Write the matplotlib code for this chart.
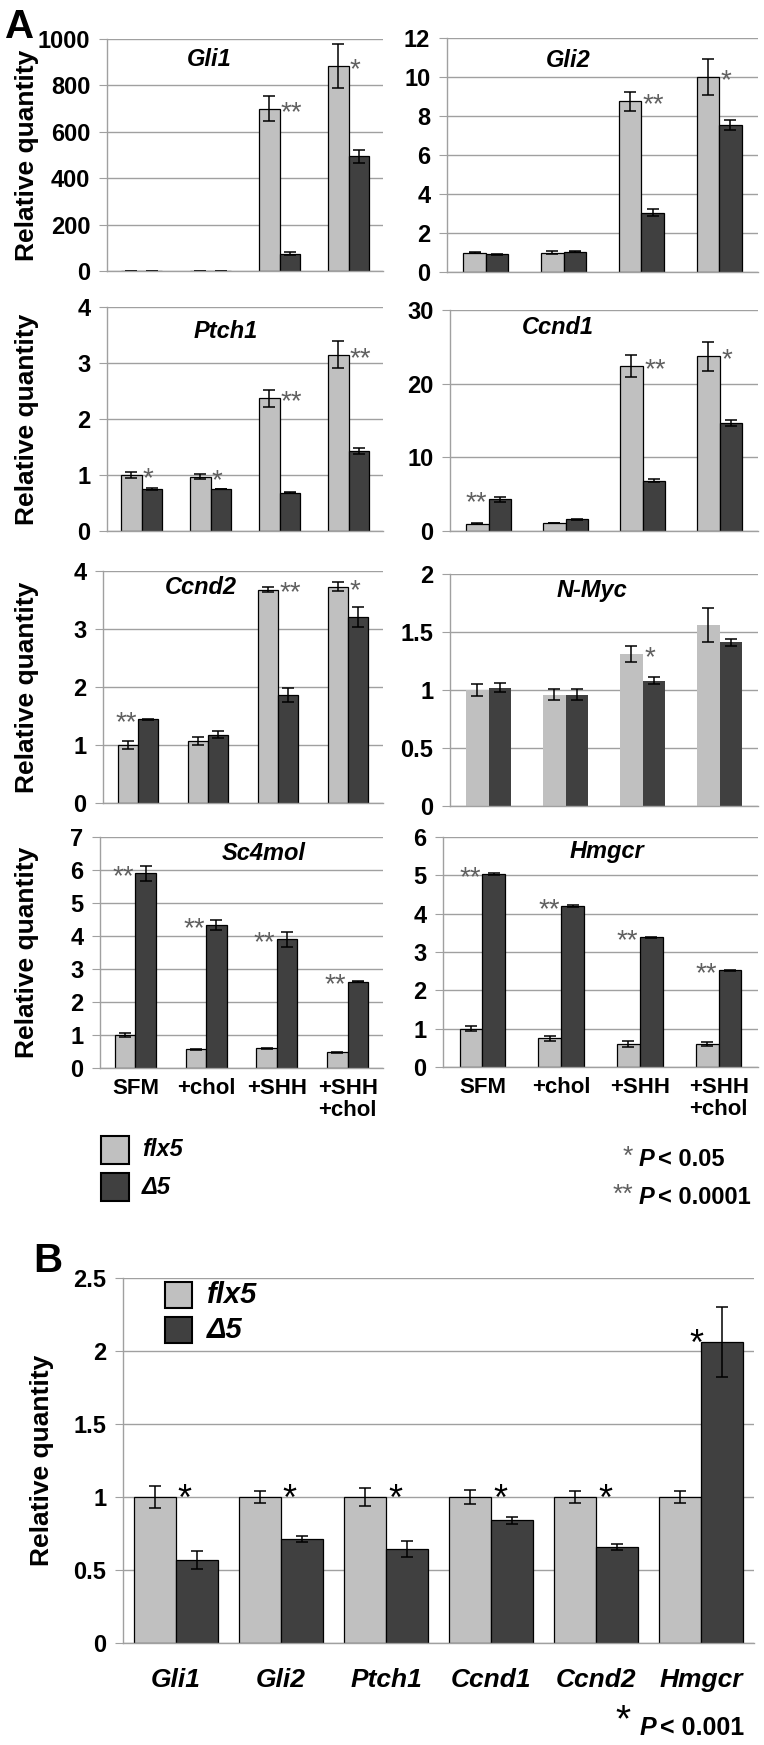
import matplotlib
matplotlib.use("Agg")
import matplotlib.pyplot as plt
import numpy as np
from matplotlib import font_manager
from matplotlib.patches import Rectangle
from matplotlib.ticker import FuncFormatter, MultipleLocator

W, H = 764, 1745
LIGHT = "#c0c0c0"
DARK = "#404040"
GRID = "#a0a0a0"
STAR_GRAY = "#606060"

installed = {f.name for f in font_manager.fontManager.ttflist}
SANS = ["Liberation Sans", "DejaVu Sans"]
NARROW = (["Liberation Sans Narrow"] if "Liberation Sans Narrow" in installed else []) + SANS
plt.rcParams["font.family"] = NARROW
plt.rcParams["font.weight"] = "bold"

# ---- data (panel A) ----
conditions = ["SFM", "+chol", "+SHH", "+SHH\n+chol"]

gli1_flx = [1, 1, 700, 885]
gli1_flx_err = [0.5, 0.5, 55, 95]
gli1_d5 = [1, 1.5, 75, 495]
gli1_d5_err = [0.3, 0.3, 5, 28]

gli2_flx = [1.0, 1.0, 8.75, 10.0]
gli2_flx_err = [0.03, 0.06, 0.5, 0.9]
gli2_d5 = [0.9, 1.05, 3.05, 7.55]
gli2_d5_err = [0.03, 0.03, 0.2, 0.25]

ptch1_flx = [1.0, 0.97, 2.37, 3.15]
ptch1_flx_err = [0.05, 0.05, 0.15, 0.24]
ptch1_d5 = [0.75, 0.75, 0.68, 1.43]
ptch1_d5_err = [0.02, 0.0, 0.01, 0.05]

ccnd1_flx = [1.0, 1.1, 22.4, 23.7]
ccnd1_flx_err = [0.05, 0.05, 1.5, 2.0]
ccnd1_d5 = [4.3, 1.6, 6.8, 14.6]
ccnd1_d5_err = [0.3, 0.05, 0.2, 0.4]

ccnd2_flx = [1.0, 1.07, 3.68, 3.73]
ccnd2_flx_err = [0.07, 0.07, 0.04, 0.08]
ccnd2_d5 = [1.44, 1.18, 1.86, 3.21]
ccnd2_d5_err = [0.01, 0.06, 0.12, 0.17]

nmyc_flx = [1.0, 0.96, 1.31, 1.56]
nmyc_flx_err = [0.05, 0.05, 0.07, 0.15]
nmyc_d5 = [1.02, 0.96, 1.08, 1.41]
nmyc_d5_err = [0.04, 0.05, 0.03, 0.03]

sc4mol_flx = [1.0, 0.57, 0.6, 0.47]
sc4mol_flx_err = [0.05, 0.01, 0.01, 0.01]
sc4mol_d5 = [5.9, 4.33, 3.9, 2.62]
sc4mol_d5_err = [0.22, 0.15, 0.23, 0.02]

hmgcr_flx = [1.0, 0.75, 0.6, 0.6]
hmgcr_flx_err = [0.06, 0.07, 0.08, 0.05]
hmgcr_d5 = [5.03, 4.2, 3.38, 2.52]
hmgcr_d5_err = [0.02, 0.02, 0.02, 0.02]

# ---- data (panel B) ----
genes_b = ["Gli1", "Gli2", "Ptch1", "Ccnd1", "Ccnd2", "Hmgcr"]
b_flx = [1.0, 1.0, 1.0, 1.0, 1.0, 1.0]
b_flx_err = [0.075, 0.04, 0.065, 0.05, 0.04, 0.04]
b_d5 = [0.57, 0.71, 0.645, 0.84, 0.66, 2.06]
b_d5_err = [0.06, 0.02, 0.055, 0.025, 0.02, 0.24]


def px_axes(fig, left, top, right, bottom):
    return fig.add_axes([left / W, 1 - bottom / H, (right - left) / W, (bottom - top) / H])


def style_axes(ax, ymax, step):
    ax.set_ylim(0, ymax)
    ax.yaxis.set_major_locator(MultipleLocator(step))
    ax.yaxis.set_major_formatter(FuncFormatter(lambda v, p: f"{v:g}"))
    ax.grid(axis="y", color=GRID, lw=1)
    ax.set_axisbelow(True)
    for s in ["top", "right"]:
        ax.spines[s].set_visible(False)
    for s in ["left", "bottom"]:
        ax.spines[s].set_color(GRID)
        ax.spines[s].set_linewidth(1)
    ax.tick_params(axis="y", direction="out", length=6, color=GRID, pad=6, labelsize=17)
    ax.tick_params(axis="x", length=0, pad=7)


def draw_pair(ax, x, w, flx, flx_err, d5, d5_err, edges=True):
    ek = dict(ecolor="black", elinewidth=1.1, capsize=4, capthick=1.1)
    ec = "black" if edges else "none"
    ax.bar(x - w / 2, flx, w, yerr=flx_err, color=LIGHT, edgecolor=ec, lw=0.9, error_kw=ek)
    ax.bar(x + w / 2, d5, w, yerr=d5_err, color=DARK, edgecolor=ec, lw=0.9, error_kw=ek)


fig = plt.figure(figsize=(W / 100, H / 100), dpi=100)

panels = [
    # name, flx, flx_err, d5, d5_err, ymax, step, stars, px rect, title pos, edges
    ("Gli1", gli1_flx, gli1_flx_err, gli1_d5, gli1_d5_err, 1000, 200,
     [(2, "**", "r"), (3, "*", "r")], (107, 39, 383, 271), (0.37, 0.91), True),
    ("Gli2", gli2_flx, gli2_flx_err, gli2_d5, gli2_d5_err, 12, 2,
     [(2, "**", "r"), (3, "*", "r")], (447, 38, 758, 272), (0.39, 0.905), True),
    ("Ptch1", ptch1_flx, ptch1_flx_err, ptch1_d5, ptch1_d5_err, 4, 1,
     [(0, "*", "r"), (1, "*", "r"), (2, "**", "r"), (3, "**", "r")], (107, 307, 383, 531), (0.43, 0.89), True),
    ("Ccnd1", ccnd1_flx, ccnd1_flx_err, ccnd1_d5, ccnd1_d5_err, 30, 10,
     [(0, "**", "l"), (2, "**", "r"), (3, "*", "r")], (450, 310, 758, 531), (0.35, 0.92), True),
    ("Ccnd2", ccnd2_flx, ccnd2_flx_err, ccnd2_d5, ccnd2_d5_err, 4, 1,
     [(0, "**", "l"), (2, "**", "r"), (3, "*", "r")], (103, 571, 383, 803), (0.35, 0.93), True),
    ("N-Myc", nmyc_flx, nmyc_flx_err, nmyc_d5, nmyc_d5_err, 2, 0.5,
     [(2, "*", "r")], (450, 574, 758, 806), (0.46, 0.93), False),
    ("Sc4mol", sc4mol_flx, sc4mol_flx_err, sc4mol_d5, sc4mol_d5_err, 7, 1,
     [(0, "**", "l"), (1, "**", "l"), (2, "**", "l"), (3, "**", "l")], (100, 837, 383, 1068), (0.58, 0.93), True),
    ("Hmgcr", hmgcr_flx, hmgcr_flx_err, hmgcr_d5, hmgcr_d5_err, 6, 1,
     [(0, "**", "l"), (1, "**", "l"), (2, "**", "l"), (3, "**", "l")], (443, 837, 758, 1067), (0.52, 0.935), True),
]

x = np.arange(len(conditions))
w = 0.29
for i, (name, flx, flx_err, d5, d5_err, ymax, step, stars, rect, tpos, edges) in enumerate(panels):
    ax = px_axes(fig, *rect)
    draw_pair(ax, x, w, flx, flx_err, d5, d5_err, edges)
    style_axes(ax, ymax, step)
    ax.set_xlim(-0.5, len(conditions) - 0.5)
    ax.set_xticks(x)
    if i >= 6:
        ax.set_xticklabels(conditions, fontsize=16, linespacing=1.05)
    else:
        ax.set_xticklabels([])
    ax.text(tpos[0], tpos[1], name, transform=ax.transAxes, ha="center", va="center",
            fontsize=17, fontweight="bold", fontstyle="italic", family=SANS)
    for g, txt, side in stars:
        if side == "r":
            ax.annotate(txt, (g + 0.02, flx[g]), xytext=(0, -8), textcoords="offset points",
                        ha="left", va="baseline", fontsize=20, fontweight="normal",
                        color=STAR_GRAY, family=SANS)
        else:
            ax.annotate(txt, (g - 0.02, d5[g]), xytext=(0, -8), textcoords="offset points",
                        ha="right", va="baseline", fontsize=20, fontweight="normal",
                        color=STAR_GRAY, family=SANS)
    if rect[0] < 200:
        fig.text(27 / W, 1 - (rect[1] + rect[3]) / 2 / H, "Relative quantity", rotation=90,
                 ha="center", va="center", fontsize=19, fontweight="bold", family=SANS)

fig.text(5 / W, 1 - 27 / H, "A", fontsize=29, fontweight="bold", family=SANS, va="center")
fig.text(33 / W, 1 - 1261 / H, "B", fontsize=29, fontweight="bold", family=SANS, va="center")

# legend A
for yc, col, lab in [(1150, LIGHT, "flx5"), (1187, DARK, "\u03945")]:
    fig.add_artist(Rectangle((101 / W, 1 - (yc + 14) / H), 28 / W, 28 / H, transform=fig.transFigure,
                             facecolor=col, edgecolor="black", lw=1.5))
    fig.text(142 / W, 1 - yc / H, lab, fontsize=17, fontweight="bold", fontstyle="italic", va="center")

# p-value notes A
for yc, st, pv in [(1160, "*", "< 0.05"), (1198, "**", "< 0.0001")]:
    fig.text(633 / W, 1 - (yc - 3) / H, st, fontsize=19, fontweight="normal", color=STAR_GRAY,
             ha="right", va="center", family=SANS)
    fig.text(639 / W, 1 - yc / H, "P", fontsize=17, fontweight="bold", fontstyle="italic", va="center")
    fig.text(658 / W, 1 - yc / H, pv, fontsize=17, fontweight="bold", va="center")

# panel B
axb = px_axes(fig, 123, 1278, 754, 1643)
xb = np.arange(len(genes_b))
wb = 0.4
draw_pair(axb, xb, wb, b_flx, b_flx_err, b_d5, b_d5_err)
style_axes(axb, 2.5, 0.5)
axb.set_xlim(-0.5, len(genes_b) - 0.5)
axb.set_xticks(xb)
axb.set_xticklabels(genes_b, fontsize=19, fontstyle="italic")
axb.tick_params(axis="x", pad=18)
for g in range(len(genes_b)):
    if b_d5[g] > b_flx[g]:
        axb.annotate("*", (g + 0.02, b_d5[g]), xytext=(0, -9), textcoords="offset points",
                     ha="right", va="baseline", fontsize=26, fontweight="normal", family=SANS)
    else:
        axb.annotate("*", (g + 0.02, b_flx[g]), xytext=(0, -9), textcoords="offset points",
                     ha="left", va="baseline", fontsize=26, fontweight="normal", family=SANS)
fig.text(42 / W, 1 - 1460 / H, "Relative quantity", rotation=90, ha="center", va="center",
         fontsize=19, fontweight="bold", family=SANS)

for yc, col, lab in [(1295, LIGHT, "flx5"), (1330, DARK, "\u03945")]:
    fig.add_artist(Rectangle((165 / W, 1 - (yc + 13) / H), 27 / W, 26 / H, transform=fig.transFigure,
                             facecolor=col, edgecolor="black", lw=1.5))
    fig.text(207 / W, 1 - yc / H, lab, fontsize=21, fontweight="bold", fontstyle="italic", va="center")

fig.text(631 / W, 1 - 1721 / H, "*", fontsize=28, fontweight="normal", ha="right", va="center", family=SANS)
fig.text(640 / W, 1 - 1728 / H, "P", fontsize=18, fontweight="bold", fontstyle="italic", va="center")
fig.text(660 / W, 1 - 1728 / H, "< 0.001", fontsize=18, fontweight="bold", va="center")

fig.savefig("out.png", dpi=100)
